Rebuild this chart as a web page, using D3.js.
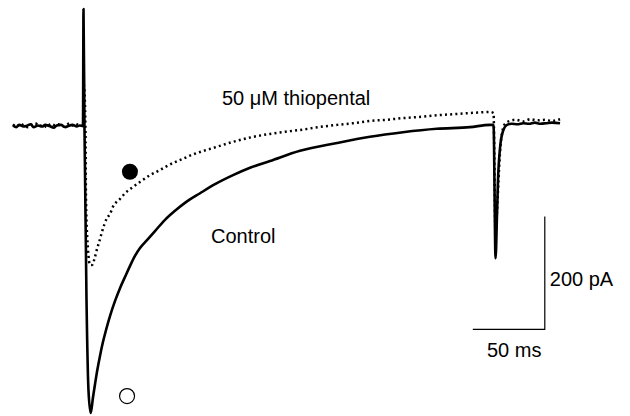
<!DOCTYPE html>
<html>
  <head>
    <meta charset="utf-8">
    <title>IPSC thiopental</title>
    <script src="https://d3js.org/d3.v7.min.js"></script>
    <style>
      body { margin: 0; background: #fff; }
      text { font-family: "Liberation Sans", Arial, sans-serif; font-size: 20px; fill: #000; }
    </style>
  </head>
  <body>
  <script>
  // time (ms) from the first stimulus, current (pA)
  var controlT = [-49.3, -47, -45, -42, -40, -37, -35, -32, -29, -27, -24, -21, -19, -16, -13, -11, -8, -5, -3, -0.7,
    -0.35, 0.35, 1.74, 3.1, 4.65, 6.25, 7.64, 9.03, 11.1, 13.2, 15.3, 18.1, 21.5, 25, 28.5, 31.9, 35.4, 38.9,
    43.75, 49.3, 56.25, 63.2, 70.1, 80.6, 91, 103.5, 115.3, 129.2, 150, 175.7, 198.6, 221.5, 245, 268, 282,
    284.4, 285.8, 286.8, 287.5, 288.9, 291, 293.75, 297, 301, 305, 309, 313, 317, 321, 325, 330.6];
  var controlI = [1, -2, 2, -1, 0, 3, -2, 1, -1, 2, 0, -3, 1, 2, -2, 0, 2, -1, 1, 0,
    207, -7, -308, -467, -508, -480, -457, -435, -407, -382, -361, -336, -310, -287, -267, -248, -230, -216,
    -202, -186, -166, -150, -136, -119, -103, -87, -74, -62, -44, -30, -19, -11, -5, -2, 2,
    2, -234, -158, -96, -39, -9, 2, 4, 3, 5, 4, 6, 4, 5, 6, 5];

  var thioT = [-49.3, -47, -44, -42, -39, -36, -34, -31, -28, -26, -23, -20, -18, -15, -12, -10, -7, -4, -2, -0.7,
    0, 1, 1.4, 2.8, 4.2, 5.6, 7.6, 9.2, 10.6, 12.3, 16, 18, 20.1, 25, 28.5, 34, 38.9, 45.8, 52,
    57.6, 63, 68.75, 74, 80.6, 92, 103.5, 116, 129.2, 140, 150, 163, 175.7, 187, 198.6, 210, 221.5,
    233, 245, 257, 268, 275, 282,
    284.4, 285.8, 286.8, 288.2, 289.6, 292.4, 295.8, 300, 305, 310, 315, 320, 325, 330.6];
  var thioI = [3, -1, 4, 1, -2, 3, 5, 0, 2, -2, 4, 1, 3, -1, 2, 5, 0, 3, 1, 0,
    72, 0, -131, -219, -246, -246, -232, -216, -205, -189, -163, -156, -143, -129, -119, -108, -99, -87, -79,
    -71, -64, -58, -52, -46, -37, -28, -20, -14, -10, -7, -2, 2, 5, 9, 11, 14,
    16, 19, 21, 23, 24, 25,
    23, -193, -152, -78, -25, 4, 9, 11, 8, 12, 10, 11, 9, 12, 11];

  // markers: filled = thiopental peak, open = control peak
  var markerT = [31.9, 29.9];
  var markerI = [-81, -478];
  var markerFilled = [true, false];

  // scale bars
  var barTime = [270, 320];   // 50 ms
  var barCurrent = [-160, -360]; // 200 pA

  var width = 630, height = 416;

  var x = d3.scaleLinear().domain([0, 50]).range([84, 156]);
  var y = d3.scaleLinear().domain([0, -200]).range([126, 239]);

  var svg = d3.select("body").append("svg")
    .attr("width", width)
    .attr("height", height);

  var control = controlT.map(function(t, i) { return [t, controlI[i]]; });
  var thio = thioT.map(function(t, i) { return [t, thioI[i]]; });

  var line = d3.line()
    .x(function(d) { return x(d[0]); })
    .y(function(d) { return y(d[1]); })
    .curve(d3.curveMonotoneX);

  svg.append("path")
    .datum(control)
    .attr("d", line)
    .attr("fill", "none")
    .attr("stroke", "#000")
    .attr("stroke-width", 2.6)
    .attr("stroke-linejoin", "round");

  svg.append("path")
    .datum(thio)
    .attr("d", line)
    .attr("fill", "none")
    .attr("stroke", "#000")
    .attr("stroke-width", 2.5)
    .attr("stroke-dasharray", "2,3.2");

  // peak markers
  svg.selectAll(".marker")
    .data(markerT.map(function(t, i) { return {t: t, i: markerI[i], f: markerFilled[i]}; }))
    .enter()
    .append("circle")
    .attr("class", "marker")
    .attr("cx", function(d) { return x(d.t); })
    .attr("cy", function(d) { return y(d.i); })
    .attr("r", function(d) { return d.f ? 8 : 7.5; })
    .attr("fill", function(d) { return d.f ? "#000" : "#fff"; })
    .attr("stroke", "#000")
    .attr("stroke-width", function(d) { return d.f ? 0 : 1.2; });

  // scale bars
  svg.append("path")
    .attr("d", "M" + x(barTime[0]) + "," + y(barCurrent[1]) +
      "H" + x(barTime[1]) + "V" + y(barCurrent[0]))
    .attr("fill", "none")
    .attr("stroke", "#000")
    .attr("stroke-width", 1.2);

  svg.append("text").attr("x", x(barTime[1]) + 5).attr("y", 286).text("200 pA");
  svg.append("text").attr("x", 487).attr("y", 357).text("50 ms");

  // labels
  svg.append("text").attr("x", 222).attr("y", 105).text("50 \u03BCM thiopental");
  svg.append("text").attr("x", 211).attr("y", 243).text("Control");
  </script>
  </body>
</html>
